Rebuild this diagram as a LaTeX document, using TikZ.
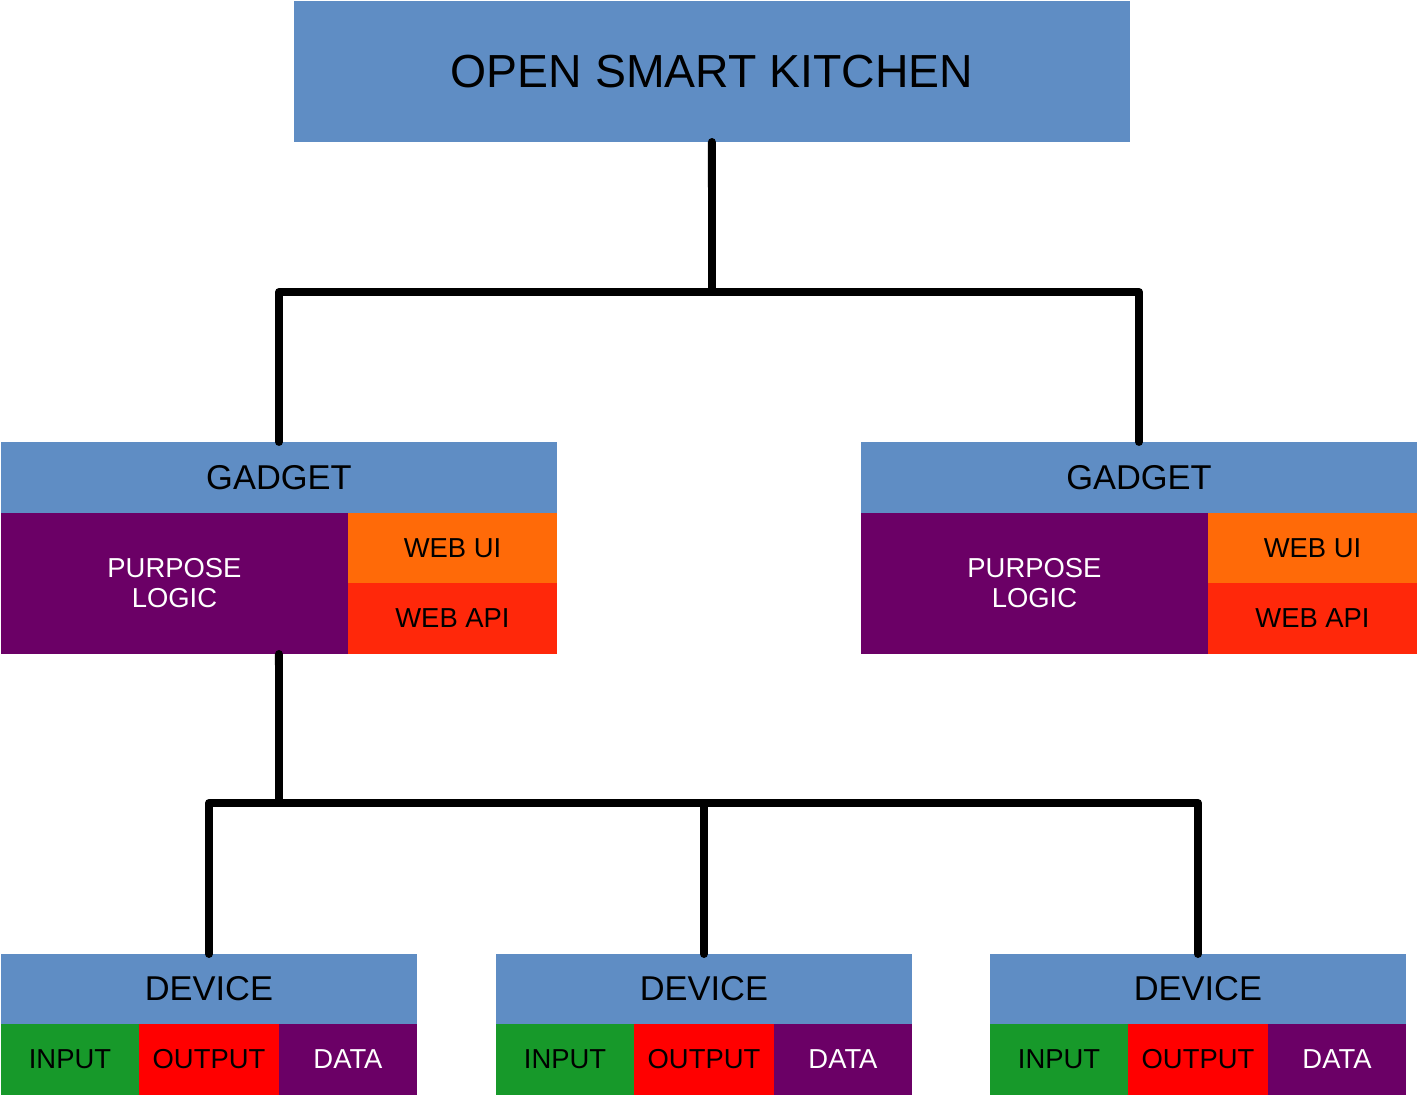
\documentclass[tikz,border=0pt]{standalone}
\usepackage{fontspec}
\setmainfont{Liberation Sans}
\definecolor{headblue}{HTML}{5F8DC4}
\definecolor{logicpurple}{HTML}{6B0066}
\definecolor{uiorange}{HTML}{FF6A08}
\definecolor{apired}{HTML}{FF280A}
\definecolor{ingreen}{HTML}{17992A}
\definecolor{outred}{HTML}{FF0000}
\tikzset{
  block/.style={anchor=north west, inner sep=0pt, outer sep=0pt, align=center},
  bigtext/.style={font=\fontsize{19.6}{22}\selectfont},
  smalltext/.style={font=\fontsize{15.6}{17}\selectfont},
  wire/.style={line width=4.5pt, line join=round, line cap=round}
}
\begin{document}
\begin{tikzpicture}[x=0.02cm, y=-0.02cm]
        \useasboundingbox (0,0) rectangle (1419,1097);

        % kitchen
        \node [block, fill=headblue, minimum width=16.72cm, minimum height=2.82cm,
               font=\fontsize{26.4}{30}\selectfont] (kitchen) at (294,1) {OPEN SMART KITCHEN};

        % gadgets
        \foreach \x/\n in {1/A, 861/B} {
            \node [block, bigtext, fill=headblue, minimum width=11.12cm, minimum height=1.42cm]
                (gad\n-head) at (\x,442) {GADGET};
            \node [block, smalltext, fill=logicpurple, text=white, minimum width=6.94cm, minimum height=2.82cm]
                (gad\n-logic) at (\x,513) {PURPOSE\\LOGIC};
            \node [block, smalltext, fill=uiorange, minimum width=4.18cm, minimum height=1.40cm]
                (gad\n-ui) at (\x+347,513) {WEB UI};
            \node [block, smalltext, fill=apired, minimum width=4.18cm, minimum height=1.42cm]
                (gad\n-api) at (\x+347,583) {WEB API};
        }

        % devices
        \foreach \x/\n in {1/A, 496/B, 990/C} {
            \node [block, bigtext, fill=headblue, minimum width=8.32cm, minimum height=1.40cm]
                (dev\n-head) at (\x,954) {DEVICE};
            \node [block, smalltext, fill=ingreen, minimum width=2.76cm, minimum height=1.42cm]
                (dev\n-in) at (\x,1024) {INPUT};
            \node [block, smalltext, fill=outred, minimum width=2.80cm, minimum height=1.42cm]
                (dev\n-out) at (\x+138,1024) {OUTPUT};
            \node [block, smalltext, fill=logicpurple, text=white, minimum width=2.76cm, minimum height=1.42cm]
                (dev\n-data) at (\x+278,1024) {DATA};
        }

        % kitchen to gadgets
        \coordinate (split1) at (712,292);
        \draw [wire] (kitchen.south) -- (split1);
        \draw [wire] (gadA-head.north) |- (split1) -| (gadB-head.north);

        % gadget to devices
        \coordinate (gadA-foot) at (gadA-head.center |- gadA-logic.south);
        \coordinate (split2) at (279,803);
        \draw [wire] (gadA-foot) -- (split2);
        \draw [wire] (devA-head.north) |- (split2) -| (devC-head.north);
        \draw [wire] (devB-head.north) -- (devB-head.north |- split2);
\end{tikzpicture}
\end{document}
